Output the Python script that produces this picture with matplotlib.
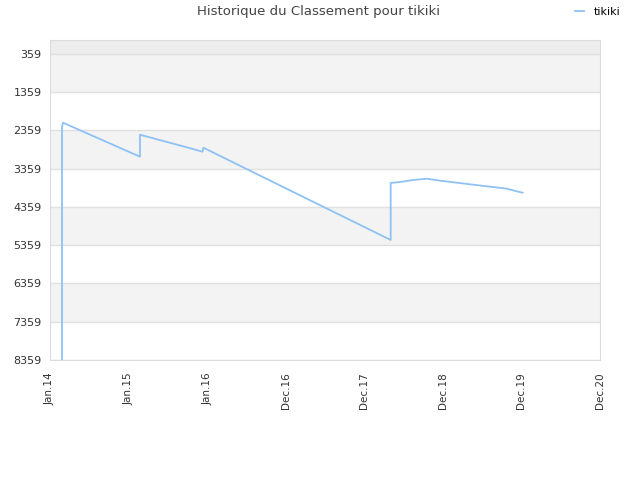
import matplotlib
matplotlib.use("Agg")
import matplotlib.pyplot as plt

# x positions in tick units (0 = Jan.14, 1 = Jan.15, ...)
t = [0.153, 0.153, 0.165, 1.145, 1.145, 1.646, 1.943, 1.951, 4.336, 4.336,
     4.455, 4.624, 4.794, 4.964, 5.176, 5.388, 5.600, 5.813, 5.940, 6.016]
rank = [8359, 2267, 2155, 3044, 2469, 2746, 2913, 2808, 5221, 3731,
        3705, 3653, 3619, 3671, 3723, 3776, 3828, 3880, 3948, 3985]

xlabels = ["Jan.14", "Jan.15", "Jan.16", "Dec.16", "Dec.17", "Dec.18", "Dec.19", "Dec.20"]
yticks = [359, 1359, 2359, 3359, 4359, 5359, 6359, 7359, 8359]

fig = plt.figure(figsize=(6.4, 4.8), dpi=100)
ax = fig.add_axes([50/640, 1-360/480, 550/640, 320/480])

ymin, ymax = -7, 8359
# alternating bands
ax.axhspan(ymin, 359, color="#ededed", zorder=0, lw=0)
for i in range(len(yticks)-1):
    if i % 2 == 0:
        ax.axhspan(yticks[i], yticks[i+1], color="#f3f3f3", zorder=0, lw=0)
for yv in yticks:
    ax.axhline(yv, color="#e0e0e0", lw=1, zorder=1)

ax.plot(t, rank, color="#8ec2f4", lw=1.3, label="tikiki", zorder=3)

ax.set_xlim(0, 7)
ax.set_ylim(ymax, ymin)
ax.set_xticks(range(len(xlabels)))
ax.set_xticklabels(xlabels, rotation=90, fontsize=7.5, color="#333333")
ax.set_yticks(yticks)
ax.set_yticklabels([str(v) for v in yticks], fontsize=8, color="#333333")
ax.tick_params(axis="y", length=0, pad=6)
ax.tick_params(axis="x", length=0, pad=9)
for s in ax.spines.values():
    s.set_color("#dcdcdc")

fig.text(0.497, 0.975, "Historique du Classement pour tikiki", ha="center", va="center",
         fontsize=9.5, color="#444444")
fig.legend(loc="center right", bbox_to_anchor=(0.985, 0.975), frameon=False,
           fontsize=8, handlelength=0.8, handletextpad=0.9)

fig.savefig("out.png", dpi=100)
